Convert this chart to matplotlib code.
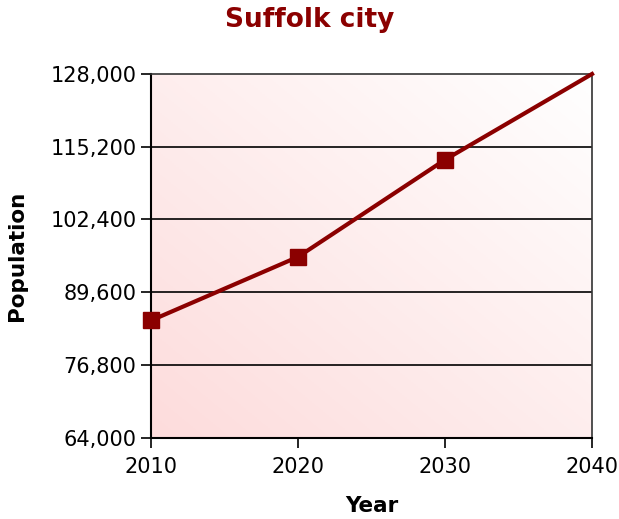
import numpy as np
import matplotlib.pyplot as plt
from matplotlib.colors import LinearSegmentedColormap

# data
years = [2010, 2020, 2030, 2040]
population = [84600, 95800, 112900, 128000]
yticks = [64000, 76800, 89600, 102400, 115200, 128000]

red = '#8b0000'

fig = plt.figure(figsize=(6.19, 5.19), dpi=100)
ax = fig.add_axes([151/619, 1-437.5/519, (592-151)/619, (437.5-74)/519])

# gradient background: pink bottom-left -> white top-right
gx, gy = np.meshgrid(np.linspace(0, 1, 200), np.linspace(0, 1, 200))
g = (gx + gy) / 2
cmap = LinearSegmentedColormap.from_list('bg', ['#fddcdc', '#ffffff'])
ax.imshow(g, cmap=cmap, origin='lower', extent=[2010, 2040, 64000, 128000],
          aspect='auto', zorder=0)

for t in yticks[1:-1]:
    ax.axhline(t, color='black', lw=1.2, zorder=1)

ax.plot(years, population, color=red, lw=3, marker='s', markersize=11,
        markevery=[0, 1, 2], zorder=3, clip_on=False)

ax.set_xlim(2010, 2040)
ax.set_ylim(64000, 128000)
ax.set_xticks(years)
ax.set_yticks(yticks)
ax.set_yticklabels([f'{v:,}' for v in yticks])
ax.tick_params(labelsize=15, length=7, width=1.2, direction='out')
ax.tick_params(axis='x', pad=7)

for s in ['left', 'bottom']:
    ax.spines[s].set_linewidth(1.5)
    ax.spines[s].set_color('black')
for s in ['top', 'right']:
    ax.spines[s].set_linewidth(1.2)
    ax.spines[s].set_color('#333333')

ax.set_xlabel('Year', fontsize=15.5, fontweight='bold', labelpad=14)
ax.set_ylabel('Population', fontsize=15.5, fontweight='bold', labelpad=17)
fig.text(0.5, 1-20/519, 'Suffolk city', ha='center', va='center',
         fontsize=19, fontweight='bold', color=red)

plt.savefig('out.png', dpi=100)
